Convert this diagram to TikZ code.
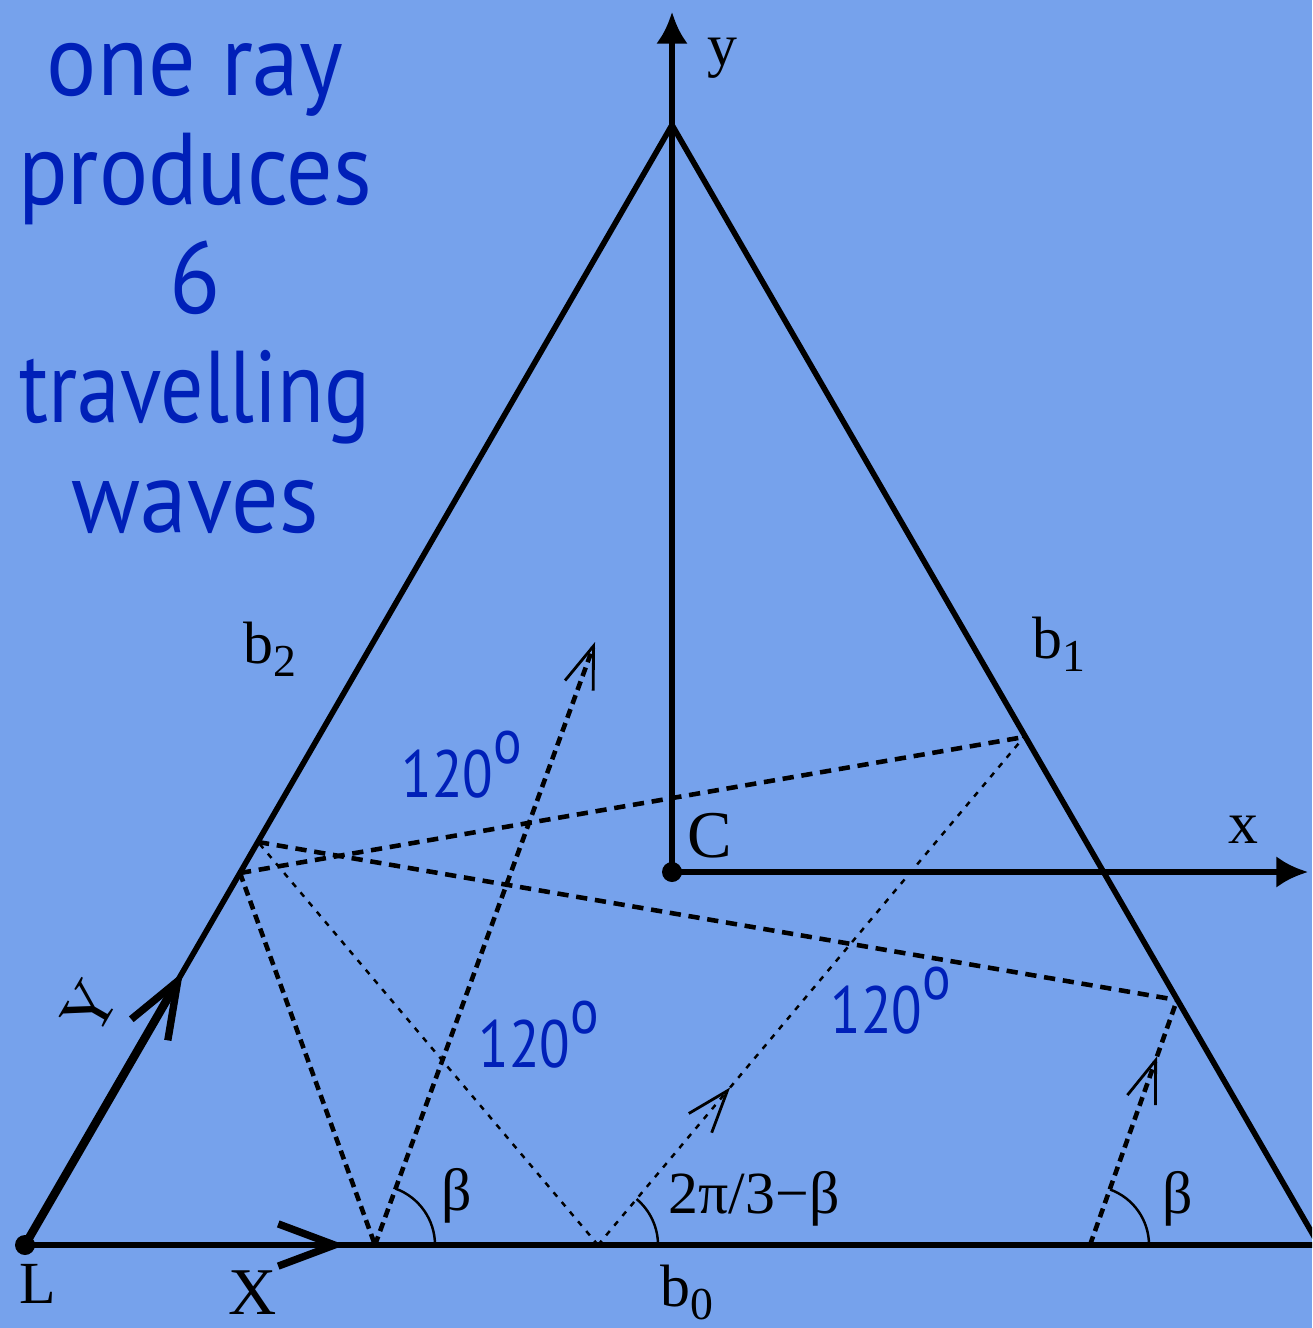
\documentclass[tikz,border=0pt]{standalone}
\usepackage{fontspec}
\usepackage{graphicx}
\setmainfont{Liberation Serif}
\newfontfamily\bluefont{PT Sans}
\usetikzlibrary{arrows.meta,calc}
\definecolor{bgblue}{RGB}{118,162,236}
\definecolor{txtblue}{RGB}{0,32,184}
\newcommand\subs[1]{\raisebox{-0.22em}{\fontsize{13}{13}\selectfont #1}}
\newcommand\degO{\raisebox{0.5em}{\scalebox{0.95}{o}}}
\newcommand\sq[1]{\scalebox{0.84}[1]{#1}}
\newcommand\tq[2][0.92]{\scalebox{#1}[1]{#2}}
\begin{document}
\begin{tikzpicture}[x=0.01cm,y=-0.01cm,
  lbl/.style={inner sep=0pt, font=\fontsize{17}{17}\selectfont},
  biglbl/.style={inner sep=0pt, font=\fontsize{19}{19}\selectfont},
  bluelbl/.style={inner sep=0pt, text=txtblue, font=\bluefont\fontsize{19}{19}\selectfont},
  titlelbl/.style={inner sep=0pt, text=txtblue, font=\bluefont\fontsize{29}{29}\selectfont},
  edgeline/.style={line width=1.6pt},
  axisline/.style={line width=1.7pt, -{Latex[length=9pt,width=9pt]}},
  thickdash/.style={line width=1.3pt, dash pattern=on 2.6pt off 1.6pt},
  longdash/.style={line width=1.3pt, dash pattern=on 3.2pt off 2.2pt},
  thindash/.style={line width=0.7pt, dash pattern=on 1.6pt off 2pt},
  barb/.style={-{Straight Barb[length=12pt,width=8.5pt,line width=0.8pt]}},
  bigbarb/.style={-{Straight Barb[length=16pt,width=12pt,line width=2.1pt]}},
  anglearc/.style={line width=0.7pt}
]
\fill[bgblue] (0,0) rectangle (1312,1328);
\useasboundingbox (0,0) rectangle (1312,1328);
\clip (0,0) rectangle (1312,1328);

% coordinates
\coordinate (L) at (25,1245);
\coordinate (R) at (1319,1245);
\coordinate (T) at (672,125);
\coordinate (C) at (672,872);
\coordinate (ytip) at (672,12);
\coordinate (xtip) at (1308,872);
\coordinate (Xa) at (345,1245);
\coordinate (Ya) at (183,972);
\coordinate (P1) at (375,1245);
\coordinate (P2) at (598,1245);
\coordinate (P3) at (1090,1245);
\coordinate (Q1) at (240,873);
\coordinate (Q2) at (1024,737);
\coordinate (Q3) at (258,842);
\coordinate (Q4) at (1177,1000);
\coordinate (A1) at (595,642);
\coordinate (MD) at ($(P2)!0.31!(Q2)$);
\coordinate (MG) at ($(P3)!0.77!(Q4)$);

% triangle and axes
\draw[edgeline] (L) -- (R) -- (T) -- cycle;
\draw[axisline] (C) -- (ytip);
\draw[axisline] (C) -- (xtip);
\draw[line width=2.4pt, bigbarb] (L) -- (Ya);
\draw[line width=1.6pt, bigbarb] (L) -- (Xa);
\fill (L) circle[radius=10];
\fill (C) circle[radius=10];

% rays
\draw[thickdash, barb] (P1) -- (A1);
\draw[thickdash] (Q1) -- (P1);
\draw[longdash] (Q1) -- (Q2);
\draw[thindash, barb] (P2) -- (MD);
\draw[thindash] (MD) -- (Q2);
\draw[thindash] (P2) -- (Q3);
\draw[longdash] (Q3) -- (Q4);
\draw[thickdash, barb] (P3) -- (MG);
\draw[thickdash] (MG) -- (Q4);

% angle arcs
\draw[anglearc] ($(P1)+(60,0)$) arc[start angle=0, end angle=-70, radius=60];
\draw[anglearc] ($(P2)+(60,0)$) arc[start angle=0, end angle=-50, radius=60];
\draw[anglearc] ($(P3)+(59,0)$) arc[start angle=0, end angle=-70, radius=59];

% labels
\node[lbl, anchor=base] (ly) at (722,66) {y};
\node[lbl, anchor=base] (lx) at (1243,843) {x};
\node[biglbl, anchor=base] (lC) at (710,857) {C};
\node[lbl, anchor=base] (lL) at (38,1303) {L};
\node[biglbl, anchor=base] (lX) at (253,1314) {X};
\node[biglbl, rotate=60] (lY) at (90,1008) {Y};
\node[lbl, anchor=base west] (b2) at (243,663) {b\subs{2}};
\node[lbl, anchor=base west] (b1) at (1032,658) {b\subs{1}};
\node[lbl, anchor=base west] (b0) at (660,1306) {b\subs{0}};
\node[lbl, anchor=base] (beta1) at (457,1210) {β};
\node[lbl, anchor=base west] (ang2) at (668,1213) {2π/3−β};
\node[lbl, anchor=base] (beta2) at (1178,1213) {β};

\node[bluelbl, anchor=base west] (d1) at (401,797) {\sq{120\degO}};
\node[bluelbl, anchor=base west] (d2) at (478,1067) {\sq{120\degO}};
\node[bluelbl, anchor=base west] (d3) at (830,1033) {\sq{120\degO}};

% title
\node[titlelbl, anchor=base] (t1) at (195,96) {\tq{one ray}};
\node[titlelbl, anchor=base] (t2) at (195,205) {\tq[0.9]{produces}};
\node[titlelbl, anchor=base] (t3) at (195,314) {\tq{6}};
\node[titlelbl, anchor=base] (t4) at (195,423) {\tq[0.84]{travelling}};
\node[titlelbl, anchor=base] (t5) at (195,532) {\tq{waves}};
\end{tikzpicture}
\end{document}
